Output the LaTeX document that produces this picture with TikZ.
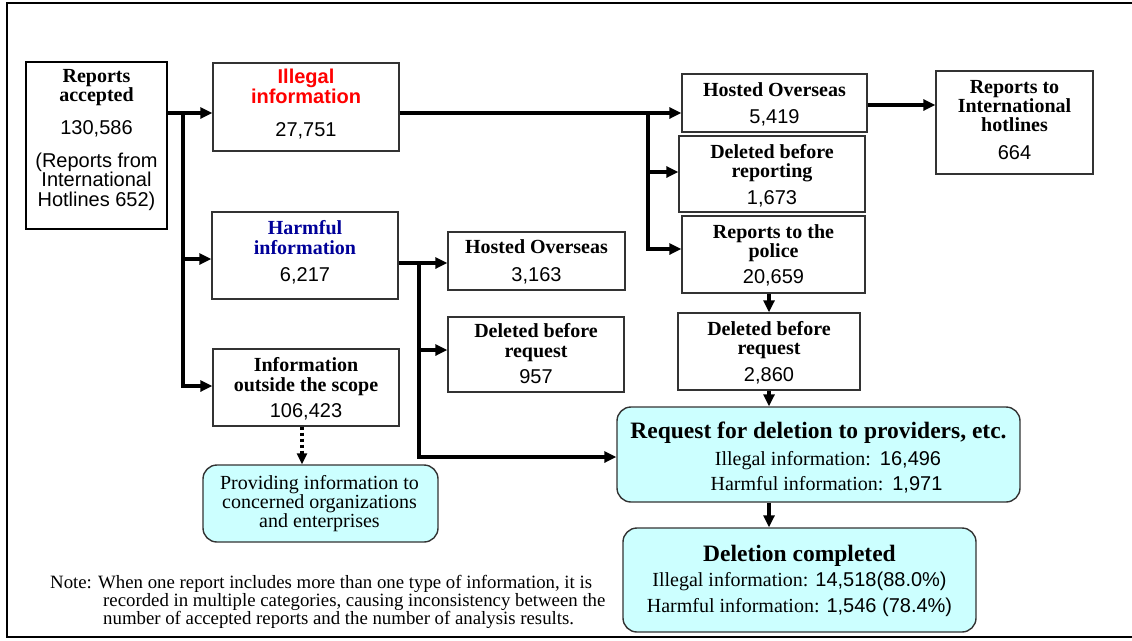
\documentclass[tikz,border=0pt]{standalone}
\usepackage{fontspec}
\setmainfont{Liberation Serif}
\setsansfont{Liberation Sans}
\usetikzlibrary{arrows.meta}
\definecolor{cyanfill}{HTML}{CCFFFF}
\definecolor{harmblue}{HTML}{000099}
\definecolor{boxline}{HTML}{333333}
\newcommand{\numf}{\sffamily}
\begin{document}
\begin{tikzpicture}[x=1pt,y=-1pt,
  box/.style={draw=boxline, line width=1.4, fill=white, inner sep=0},
  mainbox/.style={draw=black, line width=2.6, fill=white, inner sep=0},
  cbox/.style={draw=boxline, line width=1.4, fill=cyanfill, rounded corners=14, inner sep=0},
  txt/.style={align=center, inner sep=0, font=\fontsize{20}{19.5}\selectfont},
  ctxt/.style={align=center, inner sep=0, font=\fontsize{20}{25}\selectfont},
  conn/.style={line width=3.4, -{Triangle[length=12pt,width=11pt]}},
  dotconn/.style={line width=3.2, dash pattern=on 3pt off 3pt, -{Triangle[length=11pt,width=10pt]}}]
\useasboundingbox (0,0) rectangle (1132,640);
% outer frame (open to the right)
\draw[line width=2.2] (1140,3) -- (7,3) -- (7,637) -- (1140,637);

% boxes
\node[mainbox, minimum width=141, minimum height=167] (ra) at (96.5,145.5) {};
\node[box, minimum width=186, minimum height=88] (ill) at (306,107) {};
\node[box, minimum width=186, minimum height=87] (harm) at (305,255.5) {};
\node[box, minimum width=186, minimum height=77] (out) at (306,387.5) {};
\node[cbox, minimum width=235, minimum height=77] (prov) at (320.5,503.5) {};
\node[box, minimum width=177, minimum height=58] (ho2) at (536.5,261) {};
\node[box, minimum width=176, minimum height=75] (d957) at (536,354.5) {};
\node[box, minimum width=185, minimum height=58] (ho1) at (774.5,103) {};
\node[box, minimum width=186, minimum height=76] (dbr) at (772,174) {};
\node[box, minimum width=183, minimum height=77] (pol) at (773.5,254.5) {};
\node[box, minimum width=182, minimum height=77] (d2860) at (769,351.5) {};
\node[cbox, minimum width=403, minimum height=95] (req) at (818.5,454.5) {};
\node[cbox, minimum width=353, minimum height=104] (done) at (799.5,580) {};
\node[box, minimum width=157, minimum height=103] (intl) at (1014.5,122.5) {};

% texts
\node[txt] (ra-t) at (96.5,140) {{\bfseries Reports}\\{\bfseries accepted}\\[13pt]{\numf 130,586}\\[13.5pt]{\numf (Reports from}\\{\numf International}\\{\numf Hotlines 652)}};
\node[txt] (ill-t) at (306,104) {{\sffamily\bfseries\color{red}Illegal}\\{\sffamily\bfseries\color{red}information}\\[13.5pt]{\numf 27,751}};
\node[txt] (harm-t) at (305,252) {{\bfseries\color{harmblue}Harmful}\\{\bfseries\color{harmblue}information}\\[7.5pt]{\numf 6,217}};
\node[txt] (out-t) at (306,388.5) {{\bfseries Information}\\{\bfseries outside the scope}\\[6.5pt]{\numf 106,423}};
\node[txt, font=\fontsize{20}{19}\selectfont] (prov-t) at (319.5,504) {Providing information to\\concerned organizations\\and enterprises};
\node[txt] (ho2-t) at (536.5,262) {{\bfseries Hosted Overseas}\\[8.5pt]{\numf 3,163}};
\node[txt] (d957-t) at (536,353.5) {{\bfseries Deleted before}\\{\bfseries request}\\[6.5pt]{\numf 957}};
\node[txt] (ho1-t) at (774.5,104) {{\bfseries Hosted Overseas}\\[7.5pt]{\numf 5,419}};
\node[txt] (dbr-t) at (772,175.5) {{\bfseries Deleted before}\\{\bfseries reporting}\\[7.5pt]{\numf 1,673}};
\node[txt] (pol-t) at (773.5,255.5) {{\bfseries Reports to the}\\{\bfseries police}\\[6.5pt]{\numf 20,659}};
\node[txt] (d2860-t) at (769,352.5) {{\bfseries Deleted before}\\{\bfseries request}\\[7.5pt]{\numf 2,860}};
\node[txt, font=\fontsize{20}{19}\selectfont] (intl-t) at (1014.5,120) {{\bfseries Reports to}\\{\bfseries International}\\{\bfseries hotlines}\\[9.5pt]{\numf 664}};
\node[ctxt] (req-t) at (818.5,457) {{\fontsize{23.5}{25}\selectfont\bfseries Request for deletion to providers, etc.}\\[2pt]\hspace*{19pt}Illegal information:\hspace{9pt}{\numf 16,496}\\\hspace*{16pt}Harmful information:\hspace{9pt}{\numf 1,971}};
\node[ctxt] (done-t) at (799.5,581) {{\fontsize{23.5}{25}\selectfont\bfseries Deletion completed}\\Illegal information:\hspace{7pt}{\numf 14,518(88.0\%)}\\[1pt]Harmful information:\hspace{7pt}{\numf 1,546 (78.4\%)}};

% note
\node[align=left, inner sep=0, anchor=north west, font=\fontsize{18.8}{16.5}\selectfont] (note) at (50,575)
  {Note: When one report includes more than one type of information, it is\\
   \hspace*{53pt}recorded in multiple categories, causing inconsistency between the\\
   \hspace*{53pt}number of accepted reports and the number of analysis results.};

% junctions
\coordinate (j1) at (183,113);
\coordinate (j2) at (648,113);
\coordinate (j3) at (419,263);
\coordinate (yharm) at (0,259);
\coordinate (yout) at (0,386);
\coordinate (ydbr) at (0,172);
\coordinate (ypol) at (0,249);
\coordinate (yd957) at (0,350);
\coordinate (yreq) at (0,457);
\coordinate (yintl) at (0,105);
\coordinate (xdot) at (302,0);

% connectors
\draw[conn] (ra.east |- j1) -- (ill.west |- j1);
\draw[conn] (j1) |- (out.west |- yout);
\draw[conn] (j1 |- yharm) -- (harm.west |- yharm);
\draw[conn] (ill.east |- j2) -- (ho1.west |- j2);
\draw[conn] (j2) |- (pol.west |- ypol);
\draw[conn] (j2 |- ydbr) -- (dbr.west |- ydbr);
\draw[conn] (ho1.east |- yintl) -- (intl.west |- yintl);
\draw[conn] (harm.east |- j3) -- (ho2.west |- j3);
\draw[conn] (j3) |- (req.west |- yreq);
\draw[conn] (j3 |- yd957) -- (d957.west |- yd957);
\draw[conn] (pol.south -| d2860.north) -- (d2860.north);
\draw[conn] (d2860.south) -- (d2860.south |- req.north);
\draw[conn] (req.south -| d2860.south) -- (done.north -| d2860.south);
\draw[dotconn] (out.south -| xdot) -- (prov.north -| xdot);
\end{tikzpicture}
\end{document}
